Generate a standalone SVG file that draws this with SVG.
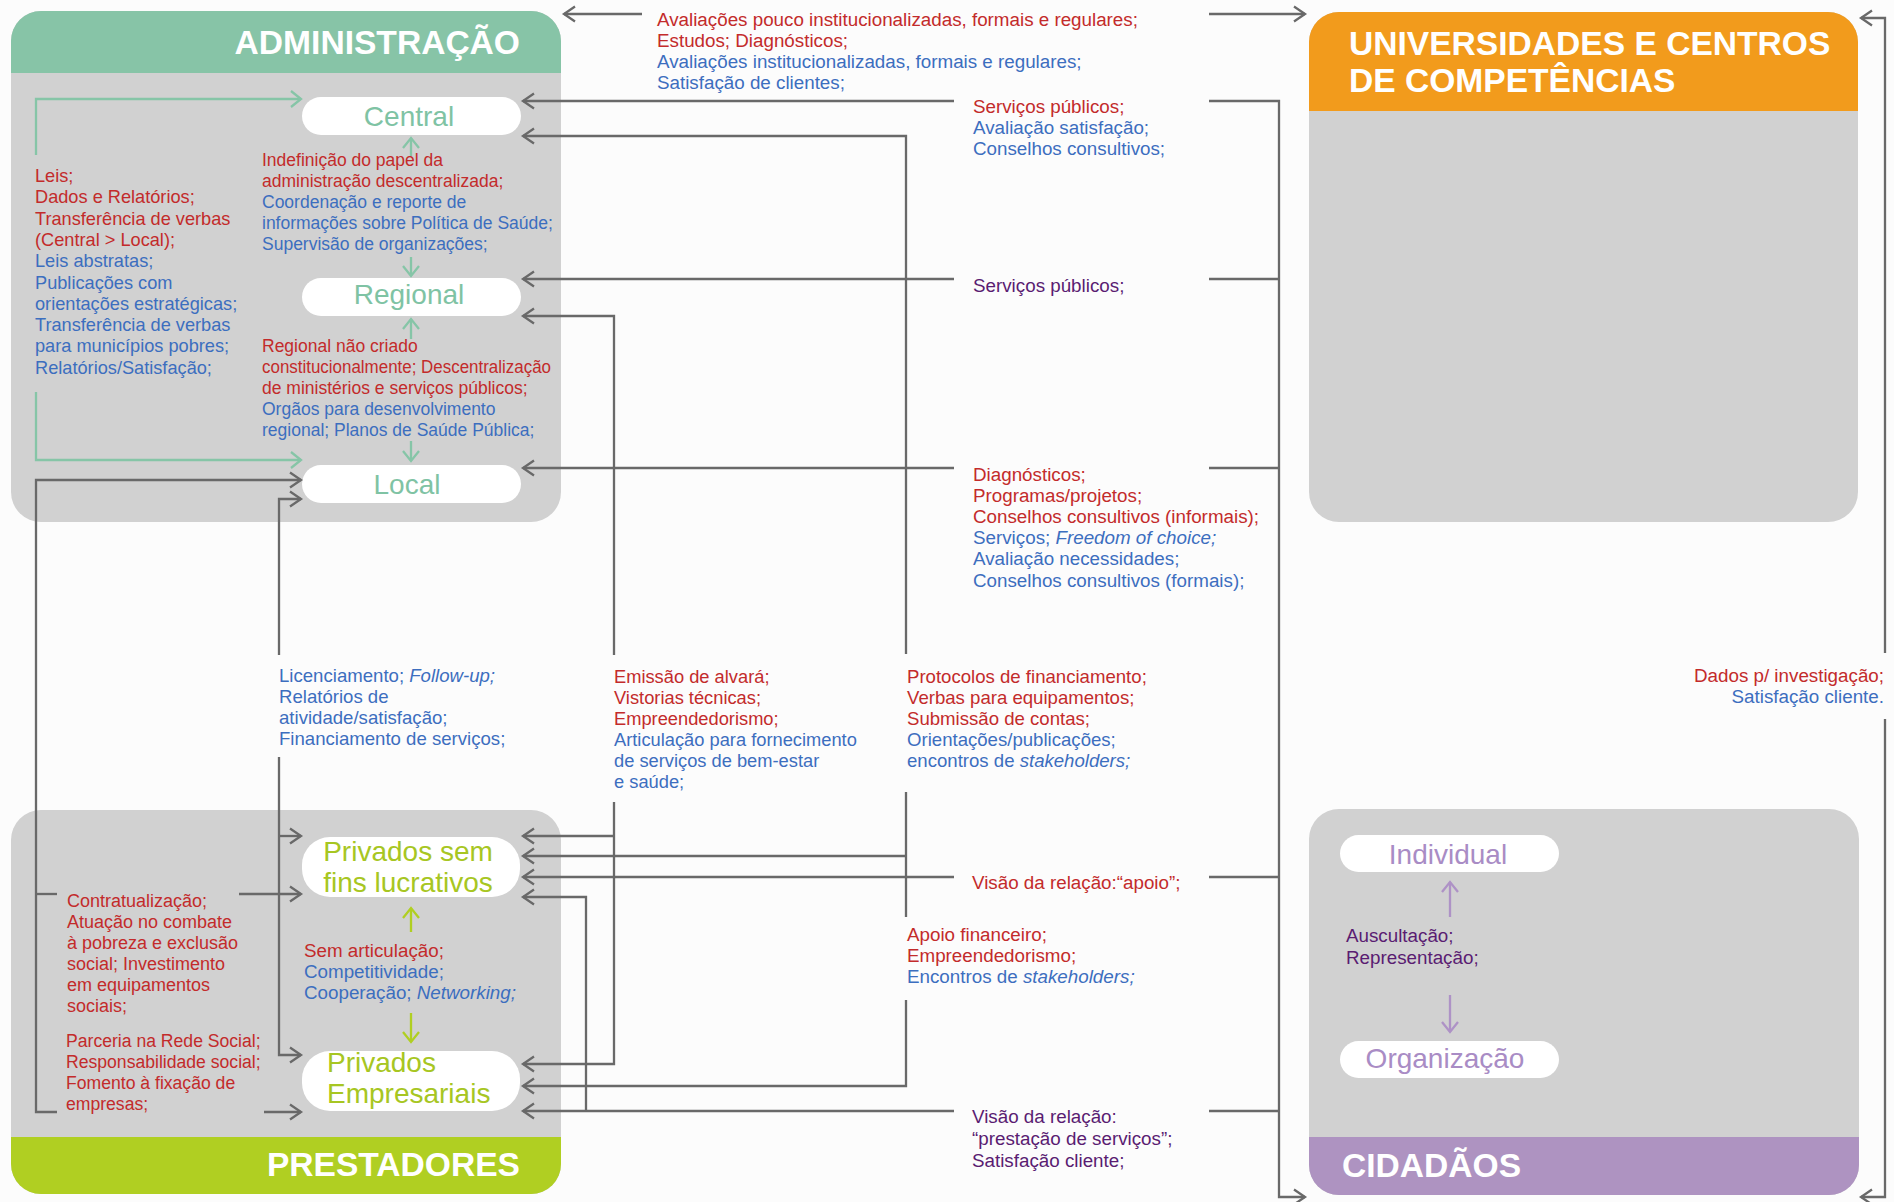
<svg xmlns="http://www.w3.org/2000/svg" width="1894" height="1202" viewBox="0 0 1894 1202">
  <defs>
    <style>
      text { font-family: "Liberation Sans", Arial, sans-serif; }
      .title { font-size: 33.6px; font-weight: bold; fill: #ffffff; }
      .pill { fill: #ffffff; }
      .pt { font-size: 28px; }
      .g { fill: #7fc3a4; }
      .l { fill: #a7c622; }
      .v { fill: #a98cc5; }
      .r { fill: #c32b2b; }
      .b { fill: #3c6ebf; }
      .p { fill: #5a1c72; }
      .s175 { font-size: 17.5px; }
      .s176 { font-size: 17.6px; }
      .s18 { font-size: 18px; }
      .s182 { font-size: 18.2px; }
      .s183 { font-size: 18.3px; }
      .s186 { font-size: 18.6px; }
      .s188 { font-size: 18.8px; }
      .i { font-style: italic; }
      .box { fill: #d1d1d1; }
      .wire { fill: none; stroke: #696969; stroke-width: 2.3; }
      .wg { fill: none; stroke: #86c5a7; stroke-width: 2.3; }
      .wl { fill: none; stroke: #b0cf22; stroke-width: 2.3; }
      .wv { fill: none; stroke: #ae92c6; stroke-width: 2.3; }
    </style>
    <marker id="ah" markerUnits="userSpaceOnUse" markerWidth="16" markerHeight="18" refX="11" refY="7.5" orient="auto" overflow="visible">
      <path d="M0,0 L11,7.5 L0,15" fill="none" stroke="#696969" stroke-width="2.3"/>
    </marker>
    <marker id="ahg" markerUnits="userSpaceOnUse" markerWidth="16" markerHeight="18" refX="10" refY="8" orient="auto" overflow="visible">
      <path d="M0,0 L10,8 L0,16" fill="none" stroke="#86c5a7" stroke-width="2.3"/>
    </marker>
    <marker id="ahl" markerUnits="userSpaceOnUse" markerWidth="16" markerHeight="18" refX="10" refY="8" orient="auto" overflow="visible">
      <path d="M0,0 L10,8 L0,16" fill="none" stroke="#b0cf22" stroke-width="2.3"/>
    </marker>
    <marker id="ahv" markerUnits="userSpaceOnUse" markerWidth="16" markerHeight="18" refX="10" refY="8" orient="auto" overflow="visible">
      <path d="M0,0 L10,8 L0,16" fill="none" stroke="#ae92c6" stroke-width="2.3"/>
    </marker>
  </defs>

  <rect width="1894" height="1202" fill="#fcfcfc"/>

  <!-- ADMINISTRAÇÃO -->
  <g id="administracao">
    <rect class="box" x="11" y="11" width="550" height="511" rx="30"/>
    <path d="M11,73 V41 A30,30 0 0 1 41,11 H531 A30,30 0 0 1 561,41 V73 Z" fill="#87c4a7"/>
    <text class="title" x="520" y="54" text-anchor="end">ADMINISTRAÇÃO</text>
  </g>
  <g id="central">
    <rect class="pill" x="302" y="97" width="219" height="38" rx="19"/>
    <text class="pt g" x="409" y="126" text-anchor="middle">Central</text>
  </g>
  <g id="regional">
    <rect class="pill" x="302" y="278" width="219" height="38" rx="19"/>
    <text class="pt g" x="409" y="304" text-anchor="middle">Regional</text>
  </g>
  <g id="local">
    <rect class="pill" x="302" y="465" width="219" height="38" rx="19"/>
    <text class="pt g" x="407" y="494" text-anchor="middle">Local</text>
  </g>

  <!-- UNIVERSIDADES E CENTROS DE COMPETÊNCIAS -->
  <g id="universidades">
    <rect class="box" x="1309" y="12" width="549" height="510" rx="30"/>
    <path d="M1309,111 V42 A30,30 0 0 1 1339,12 H1828 A30,30 0 0 1 1858,42 V111 Z" fill="#f29b1c"/>
    <text class="title" x="1349" y="55">UNIVERSIDADES E CENTROS</text>
    <text class="title" x="1349" y="92">DE COMPETÊNCIAS</text>
  </g>

  <!-- PRESTADORES -->
  <g id="prestadores">
    <rect class="box" x="11" y="810" width="550" height="384" rx="30"/>
    <path d="M11,1137 V1164 A30,30 0 0 0 41,1194 H531 A30,30 0 0 0 561,1164 V1137 Z" fill="#b0cf22"/>
    <text class="title" x="520" y="1176" text-anchor="end">PRESTADORES</text>
  </g>
  <g id="privados-sem-fins">
    <rect class="pill" x="302" y="837" width="218" height="60" rx="28"/>
    <text class="pt l" x="408" y="861" text-anchor="middle">Privados sem</text>
    <text class="pt l" x="408" y="892" text-anchor="middle">fins lucrativos</text>
  </g>
  <g id="privados-empresariais">
    <rect class="pill" x="302" y="1051" width="218" height="60" rx="28"/>
    <text class="pt l" x="327" y="1072">Privados</text>
    <text class="pt l" x="327" y="1103">Empresariais</text>
  </g>

  <!-- CIDADÃOS -->
  <g id="cidadaos">
    <rect class="box" x="1309" y="809" width="550" height="386" rx="30"/>
    <path d="M1309,1137 V1165 A30,30 0 0 0 1339,1195 H1829 A30,30 0 0 0 1859,1165 V1137 Z" fill="#ae93c1"/>
    <text class="title" x="1342" y="1177">CIDADÃOS</text>
  </g>
  <g id="individual">
    <rect class="pill" x="1340" y="835" width="219" height="37" rx="18.5"/>
    <text class="pt v" x="1448" y="864" text-anchor="middle">Individual</text>
  </g>
  <g id="organizacao">
    <rect class="pill" x="1340" y="1041" width="219" height="37" rx="18.5"/>
    <text class="pt v" x="1445" y="1068" text-anchor="middle">Organização</text>
  </g>

  <!-- connectors -->
  <g id="connectors">
    <!-- inside ADMINISTRAÇÃO -->
    <path class="wg" d="M36,155 V99 H301" marker-end="url(#ahg)"/>
    <path class="wg" d="M36,392 V460 H301" marker-end="url(#ahg)"/>
    <path class="wg" d="M411,156 V138" marker-end="url(#ahg)"/>
    <path class="wg" d="M411,257 V276" marker-end="url(#ahg)"/>
    <path class="wg" d="M411,339 V319" marker-end="url(#ahg)"/>
    <path class="wg" d="M411,441 V461" marker-end="url(#ahg)"/>

    <!-- inside PRESTADORES -->
    <path class="wl" d="M411,932 V908" marker-end="url(#ahl)"/>
    <path class="wl" d="M411,1013 V1042" marker-end="url(#ahl)"/>

    <!-- inside CIDADÃOS -->
    <path class="wv" d="M1450,917 V882" marker-end="url(#ahv)"/>
    <path class="wv" d="M1450,995 V1032" marker-end="url(#ahv)"/>

    <!-- top row -->
    <path class="wire" d="M642,14 H564" marker-end="url(#ah)"/>
    <path class="wire" d="M1209,14 H1305" marker-end="url(#ah)"/>

    <!-- to Central / Regional / Local -->
    <path class="wire" d="M954,101 H523" marker-end="url(#ah)"/>
    <path class="wire" d="M1209,101 H1279 V1197 H1305" marker-end="url(#ah)"/>
    <path class="wire" d="M906,654 V136 H523" marker-end="url(#ah)"/>
    <path class="wire" d="M954,279 H523" marker-end="url(#ah)"/>
    <path class="wire" d="M1209,279 H1279"/>
    <path class="wire" d="M614,655 V316 H523" marker-end="url(#ah)"/>
    <path class="wire" d="M954,468 H523" marker-end="url(#ah)"/>
    <path class="wire" d="M1209,468 H1279"/>

    <!-- left side of PRESTADORES -->
    <path class="wire" d="M57,1112 H36 V480 H301" marker-end="url(#ah)"/>
    <path class="wire" d="M36,894 H57"/>
    <path class="wire" d="M239,894 H301" marker-end="url(#ah)"/>
    <path class="wire" d="M264,1112 H301" marker-end="url(#ah)"/>
    <path class="wire" d="M279,655 V499 H301" marker-end="url(#ah)"/>
    <path class="wire" d="M279,757 V1055 H301" marker-end="url(#ah)"/>
    <path class="wire" d="M279,836 H301" marker-end="url(#ah)"/>

    <!-- right side of PRESTADORES -->
    <path class="wire" d="M614,802 V1064 H523" marker-end="url(#ah)"/>
    <path class="wire" d="M614,836 H523" marker-end="url(#ah)"/>
    <path class="wire" d="M906,792 V917"/>
    <path class="wire" d="M906,1000 V1086 H523" marker-end="url(#ah)"/>
    <path class="wire" d="M906,856 H523" marker-end="url(#ah)"/>
    <path class="wire" d="M954,877 H523" marker-end="url(#ah)"/>
    <path class="wire" d="M1209,877 H1279"/>
    <path class="wire" d="M954,1111 H523" marker-end="url(#ah)"/>
    <path class="wire" d="M586,1111 V897 H523" marker-end="url(#ah)"/>
    <path class="wire" d="M1209,1111 H1279"/>

    <!-- far right: CIDADÃOS to UNIVERSIDADES -->
    <path class="wire" d="M1885,653 V18 H1861" marker-end="url(#ah)"/>
    <path class="wire" d="M1885,719 V1197 H1861" marker-end="url(#ah)"/>
  </g>

  <!-- labels inside ADMINISTRAÇÃO -->
  <g id="admin-labels" class="s175">
    <g class="s182">
      <text class="r" x="35" y="182">Leis;</text>
      <text class="r" x="35" y="203.3">Dados e Relatórios;</text>
      <text class="r" x="35" y="224.6">Transferência de verbas</text>
      <text class="r" x="35" y="245.9">(Central &gt; Local);</text>
      <text class="b" x="35" y="267.2">Leis abstratas;</text>
      <text class="b" x="35" y="288.5">Publicações com</text>
      <text class="b" x="35" y="309.8">orientações estratégicas;</text>
      <text class="b" x="35" y="331.1">Transferência de verbas</text>
      <text class="b" x="35" y="352.4">para municípios pobres;</text>
      <text class="b" x="35" y="373.7">Relatórios/Satisfação;</text>
    </g>

    <text class="r" x="262" y="166">Indefinição do papel da</text>
    <text class="r" x="262" y="187">administração descentralizada;</text>
    <text class="b" x="262" y="208">Coordenação e reporte de</text>
    <text class="b" x="262" y="229">informações sobre Política de Saúde;</text>
    <text class="b" x="262" y="250">Supervisão de organizações;</text>

    <text class="r" x="262" y="352">Regional não criado</text>
    <text class="r" x="262" y="373" textLength="289" lengthAdjust="spacingAndGlyphs">constitucionalmente; Descentralização</text>
    <text class="r" x="262" y="394">de ministérios e serviços públicos;</text>
    <text class="b" x="262" y="415">Orgãos para desenvolvimento</text>
    <text class="b" x="262" y="436">regional; Planos de Saúde Pública;</text>
  </g>

  <!-- labels on the links -->
  <g id="link-labels" class="s188">
    <text class="r" x="657" y="26">Avaliações pouco institucionalizadas, formais e regulares;</text>
    <text class="r" x="657" y="47">Estudos; Diagnósticos;</text>
    <text class="b" x="657" y="68">Avaliações institucionalizadas, formais e regulares;</text>
    <text class="b" x="657" y="89">Satisfação de clientes;</text>

    <text class="r" x="973" y="113">Serviços públicos;</text>
    <text class="b" x="973" y="134">Avaliação satisfação;</text>
    <text class="b" x="973" y="155">Conselhos consultivos;</text>

    <text class="p" x="973" y="292">Serviços públicos;</text>

    <text class="r" x="973" y="481">Diagnósticos;</text>
    <text class="r" x="973" y="502">Programas/projetos;</text>
    <text class="r" x="973" y="523">Conselhos consultivos (informais);</text>
    <text class="b" x="973" y="544">Serviços; <tspan class="i">Freedom of choice;</tspan></text>
    <text class="b" x="973" y="565">Avaliação necessidades;</text>
    <text class="b" x="973" y="587">Conselhos consultivos (formais);</text>

    <text class="r" x="972" y="889">Visão da relação:“apoio”;</text>

    <text class="p" x="972" y="1123">Visão da relação:</text>
    <text class="p" x="972" y="1145">“prestação de serviços”;</text>
    <text class="p" x="972" y="1167">Satisfação cliente;</text>

    <text class="r" x="907" y="941">Apoio financeiro;</text>
    <text class="r" x="907" y="962">Empreendedorismo;</text>
    <text class="b" x="907" y="983">Encontros de <tspan class="i">stakeholders;</tspan></text>

    <text class="r" x="1884" y="682" text-anchor="end">Dados p/ investigação;</text>
    <text class="b" x="1884" y="703" text-anchor="end">Satisfação cliente.</text>
  </g>

  <g id="column-labels" class="s186">
    <text class="b" x="279" y="682">Licenciamento; <tspan class="i">Follow-up;</tspan></text>
    <text class="b" x="279" y="703">Relatórios de</text>
    <text class="b" x="279" y="724">atividade/satisfação;</text>
    <text class="b" x="279" y="745">Financiamento de serviços;</text>

    <g class="s183">
      <text class="r" x="614" y="683">Emissão de alvará;</text>
      <text class="r" x="614" y="704">Vistorias técnicas;</text>
      <text class="r" x="614" y="725">Empreendedorismo;</text>
      <text class="b" x="614" y="746">Articulação para fornecimento</text>
      <text class="b" x="614" y="767">de serviços de bem-estar</text>
      <text class="b" x="614" y="788">e saúde;</text>
    </g>

    <text class="r" x="907" y="683">Protocolos de financiamento;</text>
    <text class="r" x="907" y="704">Verbas para equipamentos;</text>
    <text class="r" x="907" y="725">Submissão de contas;</text>
    <text class="b" x="907" y="746">Orientações/publicações;</text>
    <text class="b" x="907" y="767">encontros de <tspan class="i">stakeholders;</tspan></text>
  </g>

  <!-- labels inside PRESTADORES -->
  <g id="prestadores-labels" class="s18">
    <text class="r" x="67" y="907">Contratualização;</text>
    <text class="r" x="67" y="928">Atuação no combate</text>
    <text class="r" x="67" y="949">à pobreza e exclusão</text>
    <text class="r" x="67" y="970">social; Investimento</text>
    <text class="r" x="67" y="991">em equipamentos</text>
    <text class="r" x="67" y="1012">sociais;</text>

    <g class="s176">
      <text class="r" x="66" y="1047">Parceria na Rede Social;</text>
      <text class="r" x="66" y="1068">Responsabilidade social;</text>
      <text class="r" x="66" y="1089">Fomento à fixação de</text>
      <text class="r" x="66" y="1110">empresas;</text>
    </g>

    <text class="r s188" x="304" y="957">Sem articulação;</text>
    <text class="b s188" x="304" y="978">Competitividade;</text>
    <text class="b s188" x="304" y="999">Cooperação; <tspan class="i">Networking;</tspan></text>
  </g>

  <!-- labels inside CIDADÃOS -->
  <g id="cidadaos-labels" class="s188">
    <text class="p" x="1346" y="942">Auscultação;</text>
    <text class="p" x="1346" y="964">Representação;</text>
  </g>
</svg>
